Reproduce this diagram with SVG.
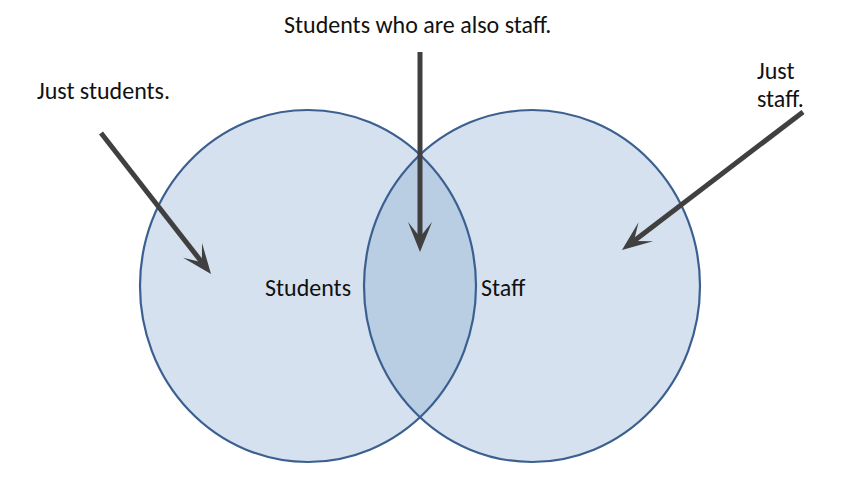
<svg xmlns="http://www.w3.org/2000/svg" width="847" height="494" viewBox="0 0 847 494">
  <style>
    .set { fill: #d6e1ef; stroke: none; }
    .rim { fill: none; stroke: #3b6090; stroke-width: 2.2; }
    .both { fill: #b9cde3; }
    .label { font-family: Calibri, Carlito, "Open Sans", "Liberation Sans", sans-serif; font-size: 24px; fill: #111; }
    .ptr { stroke: #404040; stroke-width: 5; fill: none; marker-end: url(#head); }
  </style>
  <defs>
    <marker id="head" markerUnits="userSpaceOnUse" markerWidth="40" markerHeight="40" viewBox="-20 -20 40 40" refX="0" refY="0" orient="auto">
      <path d="M15,0 L-15,-12 L0,0 L-15,12 Z" fill="#404040"/>
    </marker>
    <clipPath id="leftClip">
      <ellipse cx="308" cy="286" rx="168" ry="176"/>
    </clipPath>
  </defs>

  <g id="students">
    <ellipse class="set" cx="308" cy="286" rx="168" ry="176"/>
  </g>
  <g id="staff">
    <ellipse class="set" cx="532" cy="286" rx="168" ry="176"/>
  </g>
  <g id="overlap">
    <ellipse class="both" cx="532" cy="286" rx="168" ry="176" clip-path="url(#leftClip)"/>
  </g>
  <g id="outlines">
    <ellipse class="rim" cx="308" cy="286" rx="168" ry="176"/>
    <ellipse class="rim" cx="532" cy="286" rx="168" ry="176"/>
  </g>

  <g id="set-labels">
    <text class="label" x="265" y="296">Students</text>
    <text class="label" x="481" y="296">Staff</text>
  </g>

  <g id="callouts">
    <text class="label" x="37" y="99">Just students.</text>
    <text class="label" x="284" y="33">Students who are also staff.</text>
    <text class="label" x="757" y="79">Just</text>
    <text class="label" x="757" y="107">staff.</text>
  </g>

  <g id="connectors">
    <line class="ptr" x1="101" y1="133" x2="201.8" y2="262.2"/>
    <line class="ptr" x1="420" y1="52" x2="420" y2="237"/>
    <line class="ptr" x1="803" y1="112" x2="633.9" y2="240.9"/>
  </g>
</svg>
